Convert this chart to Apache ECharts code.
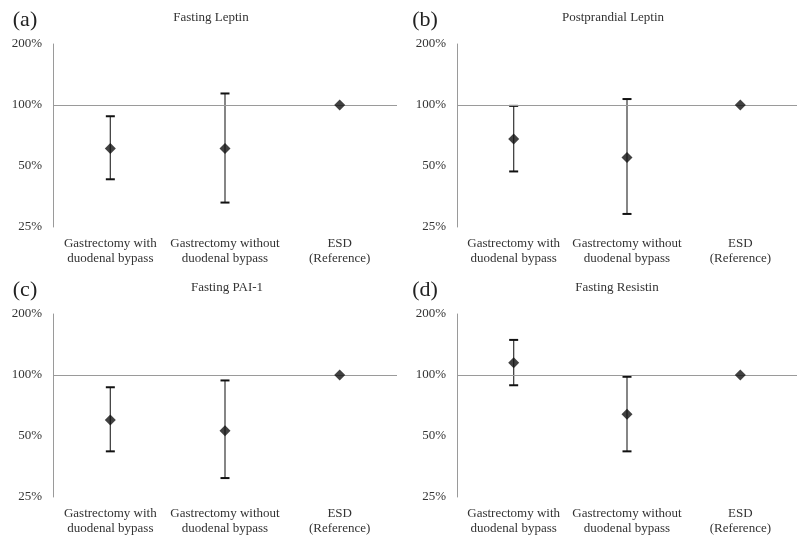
<!DOCTYPE html>
<html>
<head>
<meta charset="utf-8">
<script src="https://cdn.jsdelivr.net/npm/echarts@6/dist/echarts.min.js"></script>
<style>
html,body{margin:0;padding:0;background:#fff;}
#chart{width:797px;height:539px;}
</style>
</head>
<body>
<div id="chart"></div>
<script>
// ---- data ----
const categories = ['Gastrectomy with\nduodenal bypass', 'Gastrectomy without\nduodenal bypass', 'ESD\n(Reference)'];
const panelLetters = ['(a)', '(b)', '(c)', '(d)'];
const panelTitles = ['Fasting Leptin', 'Postprandial Leptin', 'Fasting PAI-1', 'Fasting Resistin'];
const yTicks = [0.25, 0.5, 1, 2];
const referenceValue = 1;

// ratio to reference (ESD = 1.0), point estimate and CI
const meanA = [0.61, 0.61, 1.00];
const lowA  = [0.43, 0.33];
const highA = [0.88, 1.14];

const meanB = [0.68, 0.55, 1.00];
const lowB  = [0.47, 0.29];
const highB = [0.99, 1.07];

const meanC = [0.60, 0.53, 1.00];
const lowC  = [0.42, 0.31];
const highC = [0.87, 0.94];

const meanD = [1.15, 0.64, 1.00];
const lowD  = [0.89, 0.42];
const highD = [1.49, 0.98];

const panelMeans = [meanA, meanB, meanC, meanD];
const panelLows = [lowA, lowB, lowC, lowD];
const panelHighs = [highA, highB, highC, highD];

// ---- layout ----
const grids = [
  {left: 53, top: 44, width: 344, height: 183},
  {left: 457, top: 44, width: 340, height: 183},
  {left: 53, top: 314, width: 344, height: 183},
  {left: 457, top: 314, width: 340, height: 183}
];
const letterPos = [[25, 20], [425, 20], [25, 290], [425, 290]];
const titlePos = [[211, 18], [613, 18], [227, 288], [617, 288]];

const serif = 'Liberation Serif, Times New Roman, serif';

const xAxes = [], yAxes = [], series = [], graphics = [];
for (let i = 0; i < 4; i++) {
  xAxes.push({
    type: 'category', gridIndex: i, data: categories,
    axisLine: {show: false}, axisTick: {show: false},
    axisLabel: {interval: 0, color: '#333', fontFamily: serif, fontSize: 13, lineHeight: 15, margin: 9}
  });
  yAxes.push({
    type: 'log', logBase: 2, gridIndex: i, min: yTicks[0], max: yTicks[yTicks.length - 1],
    axisLine: {show: true, lineStyle: {color: '#9a9a9a', width: 1}},
    axisTick: {show: false}, splitLine: {show: false},
    axisLabel: {color: '#333', fontFamily: serif, fontSize: 13, margin: 11, padding: [2, 0, 0, 0],
      formatter: v => Math.round(v * 100) + '%'}
  });
  const lows = panelLows[i], highs = panelHighs[i];
  const errData = lows.map((l, k) => [k, l, highs[k]]);
  series.push({
    type: 'custom', xAxisIndex: i, yAxisIndex: i, z: 3,
    data: errData,
    encode: {x: 0, y: [1, 2]},
    renderItem: function (params, api) {
      const lo = api.coord([api.value(0), api.value(1)]);
      const hi = api.coord([api.value(0), api.value(2)]);
      const hw = 4.5;
      return {
        type: 'group',
        children: [
          {type: 'line', shape: {x1: lo[0], y1: lo[1], x2: hi[0], y2: hi[1]}, style: {stroke: '#444', lineWidth: 1.3}},
          {type: 'line', shape: {x1: lo[0] - hw, y1: lo[1], x2: lo[0] + hw, y2: lo[1]}, style: {stroke: '#111', lineWidth: 2}},
          {type: 'line', shape: {x1: hi[0] - hw, y1: hi[1], x2: hi[0] + hw, y2: hi[1]}, style: {stroke: '#111', lineWidth: 2}}
        ]
      };
    }
  });
  series.push({
    type: 'scatter', xAxisIndex: i, yAxisIndex: i, z: 5,
    symbol: 'diamond', symbolSize: 11,
    itemStyle: {color: '#111'},
    data: panelMeans[i].map((v, k) => [k, v]),
    markLine: {
      silent: true, symbol: 'none', animation: false,
      label: {show: false},
      lineStyle: {color: '#9a9a9a', width: 1, type: 'solid'},
      data: [{yAxis: referenceValue}]
    }
  });
  graphics.push({
    type: 'text', x: letterPos[i][0], y: letterPos[i][1],
    style: {text: panelLetters[i], font: '22px ' + serif, fill: '#222', textAlign: 'center', textVerticalAlign: 'middle'}
  });
  graphics.push({
    type: 'text', x: titlePos[i][0], y: titlePos[i][1],
    style: {text: panelTitles[i], font: '13px ' + serif, fill: '#333', textAlign: 'center', textVerticalAlign: 'middle'}
  });
}

const chart = echarts.init(document.getElementById('chart'));
chart.setOption({
  animation: false,
  backgroundColor: '#fff',
  grid: grids,
  xAxis: xAxes,
  yAxis: yAxes,
  series: series,
  graphic: graphics
});
</script>
</body>
</html>
